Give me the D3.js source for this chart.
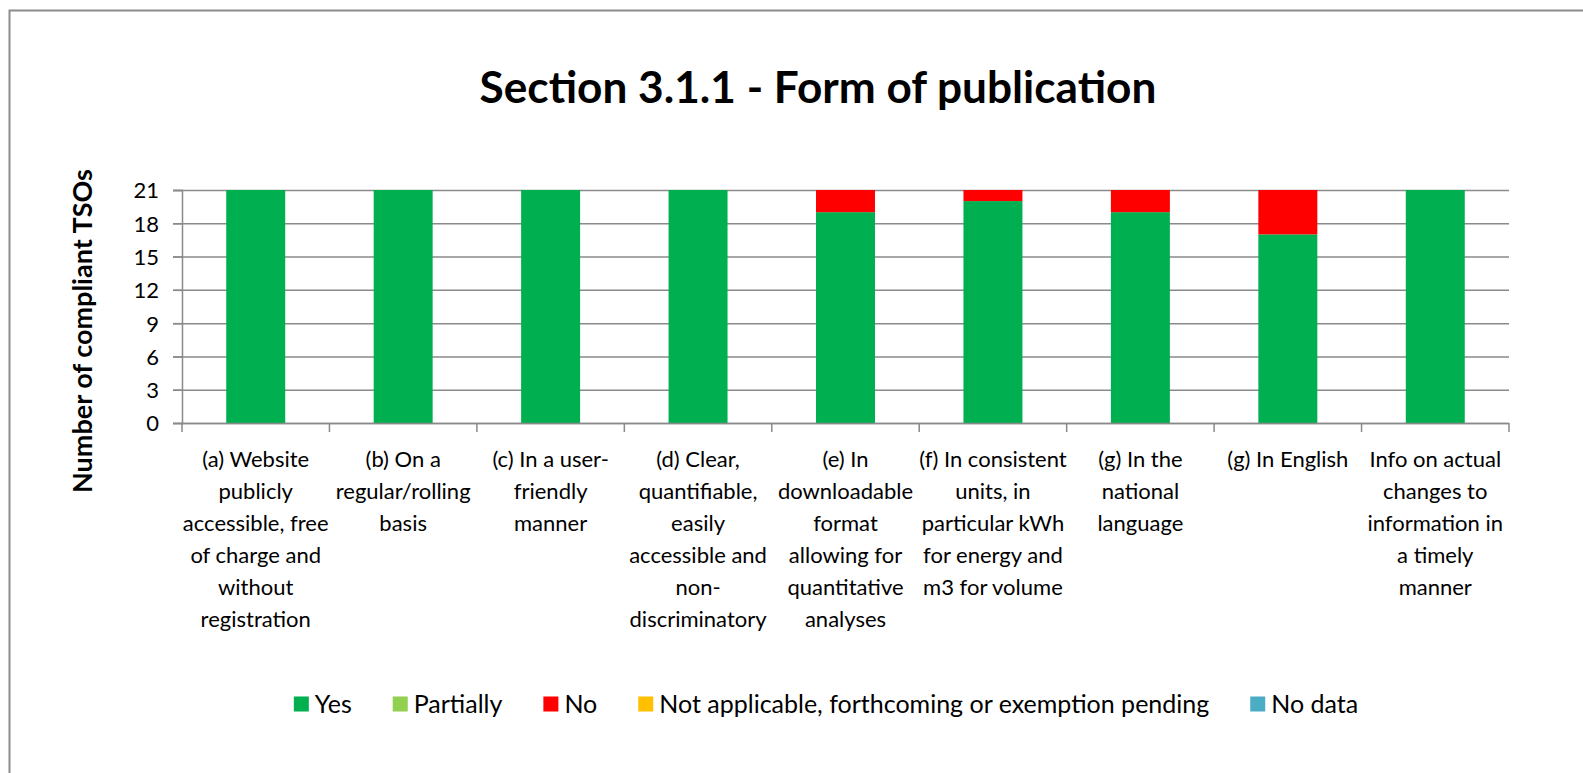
<!DOCTYPE html>
<html>
<head>
<meta charset="utf-8">
<script src="https://cdn.jsdelivr.net/npm/d3@7"></script>
<style>
  body { margin: 0; background: #fff; }
  svg text { font-family: Lato, "Open Sans", sans-serif; fill: #000; }
</style>
</head>
<body>
<div id="chart-container"></div>
<script>
const categories = [
  ["(a) Website", "publicly", "accessible, free", "of charge and", "without", "registration"],
  ["(b) On a", "regular/rolling", "basis"],
  ["(c) In a user-", "friendly", "manner"],
  ["(d) Clear,", "quantifiable,", "easily", "accessible and", "non-", "discriminatory"],
  ["(e) In", "downloadable", "format", "allowing for", "quantitative", "analyses"],
  ["(f) In consistent", "units, in", "particular kWh", "for energy and", "m3 for volume"],
  ["(g) In the", "national", "language"],
  ["(g) In English"],
  ["Info on actual", "changes to", "information in", "a timely", "manner"]
];
const yesValues = [21, 21, 21, 21, 19, 20, 19, 17, 21];
const partiallyValues = [0, 0, 0, 0, 0, 0, 0, 0, 0];
const noValues = [0, 0, 0, 0, 2, 1, 2, 4, 0];
const naValues = [0, 0, 0, 0, 0, 0, 0, 0, 0];
const noDataValues = [0, 0, 0, 0, 0, 0, 0, 0, 0];
const seriesNames = ["Yes", "Partially", "No", "Not applicable, forthcoming or exemption pending", "No data"];
const seriesColors = ["#00B050", "#92D050", "#FF0000", "#FFC000", "#4BACC6"];
const yTicks = [0, 3, 6, 9, 12, 15, 18, 21];

const width = 1583, height = 773;
const plot = { left: 182, right: 1509, top: 190, bottom: 423 };

const keys = ["yes", "partially", "no", "na", "nodata"];
const table = categories.map((c, i) => ({
  idx: i,
  yes: yesValues[i], partially: partiallyValues[i], no: noValues[i],
  na: naValues[i], nodata: noDataValues[i]
}));

const svg = d3.select("#chart-container")
  .append("svg")
  .attr("width", width)
  .attr("height", height);

// outer frame
svg.append("rect")
  .attr("x", 9.5).attr("y", 10.5)
  .attr("width", width + 20).attr("height", height + 20)
  .attr("fill", "none")
  .attr("stroke", "#8c8c8c")
  .attr("stroke-width", 2);

const x = d3.scaleBand()
  .domain(d3.range(categories.length))
  .range([plot.left, plot.right])
  .padding(0);

const y = d3.scaleLinear()
  .domain([0, 21])
  .range([plot.bottom, plot.top]);

// gridlines
svg.append("g")
  .selectAll("line")
  .data(yTicks)
  .join("line")
  .attr("x1", plot.left - 9).attr("x2", plot.right)
  .attr("y1", d => y(d) + 0.5).attr("y2", d => y(d) + 0.5)
  .attr("stroke", "#8a8a8a")
  .attr("stroke-width", 1.5);

// y axis
const yAxis = svg.append("g")
  .attr("transform", `translate(${plot.left},0)`)
  .call(d3.axisLeft(y).tickValues(yTicks).tickSize(9).tickPadding(14));
yAxis.select(".domain").attr("stroke", "#8a8a8a").attr("stroke-width", 1.5);
yAxis.selectAll(".tick line").attr("stroke", "#8a8a8a").attr("stroke-width", 1.5);
yAxis.selectAll(".tick text")
  .style("font-family", "Lato, sans-serif")
  .style("font-size", "22px")
  .attr("dy", "0.36em");

// stacked bars
const stacked = d3.stack().keys(keys)(table);
const barW = x.bandwidth() * 0.4;
svg.append("g")
  .selectAll("g")
  .data(stacked)
  .join("g")
  .attr("fill", (d, i) => seriesColors[i])
  .selectAll("rect")
  .data(d => d.filter(s => s[1] > s[0]))
  .join("rect")
  .attr("x", d => x(d.data.idx) + (x.bandwidth() - barW) / 2)
  .attr("width", barW)
  .attr("y", d => y(d[1]))
  .attr("height", d => y(d[0]) - y(d[1]));

// x axis baseline and tick marks
svg.append("line")
  .attr("x1", plot.left).attr("x2", plot.right)
  .attr("y1", plot.bottom + 0.5).attr("y2", plot.bottom + 0.5)
  .attr("stroke", "#8a8a8a").attr("stroke-width", 1.5);
svg.append("g")
  .selectAll("line")
  .data(d3.range(categories.length + 1))
  .join("line")
  .attr("x1", i => i < categories.length ? x(i) : plot.right)
  .attr("x2", i => i < categories.length ? x(i) : plot.right)
  .attr("y1", plot.bottom).attr("y2", plot.bottom + 9)
  .attr("stroke", "#8a8a8a").attr("stroke-width", 1.5);

// category labels
const catG = svg.append("g");
categories.forEach((lines, i) => {
  const t = catG.append("text")
    .attr("text-anchor", "middle")
    .style("font-size", "22px")
    .attr("x", x(i) + x.bandwidth() / 2)
    .attr("y", 467);
  lines.forEach((ln, j) => {
    t.append("tspan")
      .attr("x", x(i) + x.bandwidth() / 2)
      .attr("dy", j === 0 ? 0 : 32)
      .text(ln);
  });
});

// y-axis title
svg.append("text")
  .attr("transform", "translate(92,331) rotate(-90)")
  .attr("text-anchor", "middle")
  .style("font-size", "27px")
  .style("font-weight", "bold")
  .text("Number of compliant TSOs");

// chart title
const title = svg.append("text")
  .attr("x", 818).attr("y", 103)
  .attr("text-anchor", "middle")
  .style("font-size", "40px")
  .style("font-weight", "bold")
  .text("Section 3.1.1 - Form of publication");
const tw = title.node().getComputedTextLength();
title.style("font-size", (40 * 677 / tw) + "px");

// legend
const legend = svg.append("g");
let cursor = 0;
const gap = 41;
seriesNames.forEach((name, i) => {
  const g = legend.append("g").attr("transform", `translate(${cursor},0)`);
  g.append("rect")
    .attr("x", 0).attr("y", -7.5)
    .attr("width", 15).attr("height", 15)
    .attr("fill", seriesColors[i]);
  const t = g.append("text")
    .attr("x", 21).attr("y", 0).attr("dy", "0.35em")
    .style("font-size", "25px")
    .text(name);
  cursor += 21 + t.node().getComputedTextLength() + gap;
});
const legendW = cursor - gap;
legend.attr("transform", `translate(${826 - legendW / 2},704)`);
</script>
</body>
</html>
